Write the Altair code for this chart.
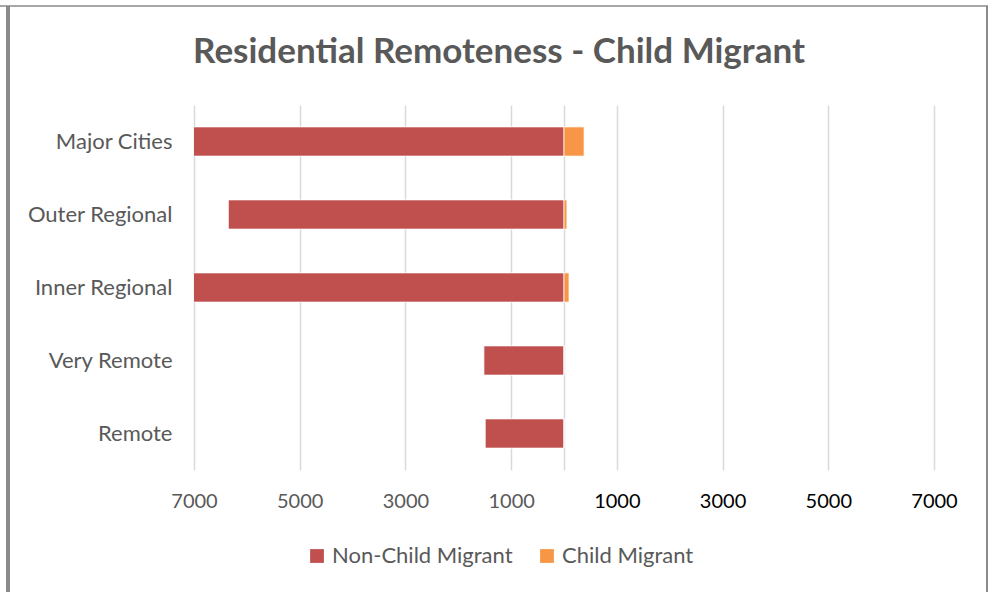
import altair as alt
import pandas as pd

regions = ["Major Cities", "Outer Regional", "Inner Regional", "Very Remote", "Remote"]
non_child = [-7600, -6350, -7300, -1515, -1490]
child = [380, 55, 95, 0, 0]
series = ["Non-Child Migrant", "Child Migrant"]
colors = ["#C0504D", "#F79646"]
tick_values = [-7000, -5000, -3000, -1000, 0, 1000, 3000, 5000, 7000]

rows = []
for r, n, c in zip(regions, non_child, child):
    rows.append({"region": r, "series": series[0], "value": n})
    rows.append({"region": r, "series": series[1], "value": c})
df = pd.DataFrame(rows)

FONT = "Lato"
GREY = "#595959"

bars = alt.Chart(df).mark_bar(clip=True, stroke="white", strokeWidth=0.75).encode(
    y=alt.Y("region:N", sort=regions, title=None,
            scale=alt.Scale(paddingInner=0.6, paddingOuter=0.3),
            axis=alt.Axis(domain=False, ticks=False, grid=False, labelFontSize=22,
                          labelFont=FONT, labelColor=GREY, labelPadding=22)),
    x=alt.X("value:Q", title=None, stack="zero",
            scale=alt.Scale(domain=[-7000, 7000], nice=False, zero=False),
            axis=alt.Axis(values=tick_values, domain=False, ticks=False, grid=True,
                          gridColor="#d9d9d9", gridWidth=1.5,
                          labelExpr="datum.value == 0 ? '' : format(abs(datum.value), 'd')",
                          labelFontSize=20, labelFont=FONT, labelPadding=21,
                          labelFlush=False, labelOverlap=False,
                          labelColor={"condition": {"test": "datum.value < 0", "value": GREY},
                                      "value": "#000000"})),
    color=alt.Color("series:N", sort=series,
                    scale=alt.Scale(domain=series, range=colors),
                    legend=alt.Legend(title=None, orient="none", direction="horizontal",
                                      legendX=112, legendY=440, padding=0,
                                      symbolType="square", symbolSize=190,
                                      symbolStrokeWidth=0, labelFontSize=22,
                                      labelFont=FONT, labelColor=GREY, labelLimit=400,
                                      columnPadding=23, labelOffset=4)),
    order=alt.Order("series:N", sort="descending"),
)

frame_df = pd.DataFrame({"k": [0]})
left_line = alt.Chart(frame_df).mark_rule(color="#8a8a8a", strokeWidth=4).encode(
    x=alt.value(-186), y=alt.value(-99), y2=alt.value(487))
right_line = alt.Chart(frame_df).mark_rule(color="#8a8a8a", strokeWidth=2).encode(
    x=alt.value(793), y=alt.value(-99), y2=alt.value(487))
top_line = alt.Chart(frame_df).mark_rule(color="#8a8a8a", strokeWidth=1.5).encode(
    x=alt.value(-194), x2=alt.value(794), y=alt.value(-99))

chart = alt.layer(bars, left_line, right_line, top_line).properties(
    width=740, height=365,
    padding={"left": 194, "top": 105, "right": 67, "bottom": 122},
    autosize=alt.AutoSizeParams(type="none"),
    title=alt.TitleParams("Residential Remoteness - Child Migrant", font=FONT,
                          fontSize=35, fontWeight="bold", color=GREY,
                          anchor="middle", dx=-65, offset=0, dy=66),
).configure_view(stroke=None)

chart.save("out.html", embed_options={"renderer": "svg", "actions": False})
